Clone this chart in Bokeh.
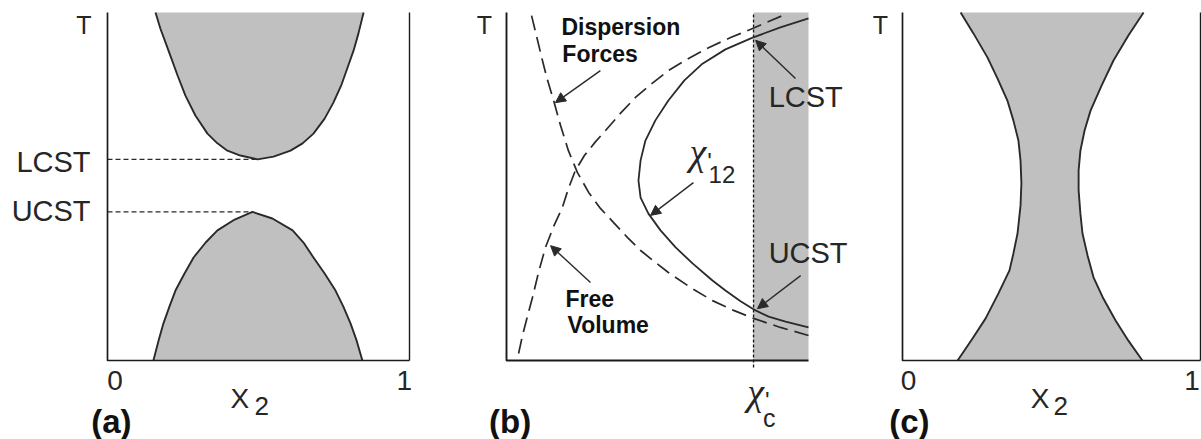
from bokeh.plotting import figure
from bokeh.models import Range1d, Arrow, NormalHead
from bokeh.core.properties import value
from bokeh.embed import file_html
from bokeh.resources import INLINE

# ---------------- data (mole fraction X2 / reduced chi in [0,1], T in [0,1]) ----------------
# panel (a): LCST (upper) and UCST (lower) binodals
a_lcst_x = [0.159, 0.175, 0.192, 0.209, 0.232, 0.258, 0.291, 0.331, 0.364, 0.397, 0.440, 0.497,
            0.550, 0.606, 0.646, 0.682, 0.719, 0.748, 0.775, 0.795, 0.815, 0.831, 0.848]
a_lcst_t = [1.000, 0.954, 0.914, 0.874, 0.819, 0.761, 0.704, 0.652, 0.624, 0.603, 0.589, 0.578,
            0.586, 0.603, 0.624, 0.652, 0.695, 0.741, 0.793, 0.842, 0.891, 0.940, 1.000]
a_ucst_x = [0.152, 0.169, 0.185, 0.205, 0.225, 0.255, 0.285, 0.325, 0.364, 0.421, 0.480,
            0.546, 0.613, 0.649, 0.682, 0.719, 0.755, 0.781, 0.805, 0.825, 0.844]
a_ucst_t = [0.000, 0.057, 0.106, 0.155, 0.201, 0.250, 0.296, 0.339, 0.374, 0.405, 0.427,
            0.408, 0.374, 0.339, 0.296, 0.250, 0.201, 0.155, 0.106, 0.057, 0.000]
a_lcst_level = 0.578
a_ucst_level = 0.427
a_lcst_xc = 0.49
a_ucst_xc = 0.48

# panel (b): dispersion-force and free-volume contributions, total chi'12, critical chi'c
b_disp_x = [0.083, 0.099, 0.119, 0.136, 0.156, 0.179, 0.205, 0.235, 0.272, 0.311, 0.354,
            0.401, 0.444, 0.493, 0.536, 0.609, 0.682, 0.752, 0.818, 0.907, 1.000]
b_disp_t = [0.991, 0.934, 0.862, 0.805, 0.747, 0.675, 0.603, 0.540, 0.483, 0.437, 0.397,
            0.353, 0.316, 0.282, 0.253, 0.210, 0.172, 0.144, 0.121, 0.095, 0.072]
b_free_x = [0.040, 0.053, 0.070, 0.086, 0.106, 0.129, 0.156, 0.185, 0.205, 0.228, 0.258, 0.295,
            0.328, 0.377, 0.427, 0.477, 0.536, 0.603, 0.669, 0.742, 0.815, 0.868, 0.914]
b_free_t = [0.020, 0.072, 0.129, 0.181, 0.253, 0.325, 0.385, 0.440, 0.494, 0.546, 0.589, 0.629,
            0.661, 0.710, 0.756, 0.793, 0.833, 0.868, 0.899, 0.928, 0.954, 0.974, 0.991]
b_chi_x = [1.000, 0.907, 0.815, 0.725, 0.649, 0.589, 0.536, 0.493, 0.460, 0.444, 0.437, 0.444,
           0.470, 0.510, 0.560, 0.616, 0.682, 0.725, 0.775, 0.818, 0.868, 0.924, 1.000]
b_chi_t = [0.983, 0.957, 0.928, 0.894, 0.853, 0.805, 0.747, 0.690, 0.632, 0.575, 0.517, 0.468,
           0.422, 0.374, 0.325, 0.279, 0.230, 0.201, 0.170, 0.147, 0.126, 0.112, 0.095]
b_chi_c = 0.818

# panel (c): hourglass two-phase region
c_left_x = [0.195, 0.238, 0.285, 0.319, 0.352, 0.372, 0.389, 0.396, 0.399, 0.396, 0.386,
            0.372, 0.359, 0.322, 0.279, 0.235, 0.185]
c_left_t = [1.000, 0.940, 0.871, 0.810, 0.747, 0.690, 0.632, 0.575, 0.509, 0.445, 0.365,
            0.307, 0.259, 0.193, 0.121, 0.063, 0.000]
c_right_x = [0.809, 0.758, 0.708, 0.668, 0.631, 0.611, 0.597, 0.591, 0.591, 0.597, 0.604,
             0.621, 0.641, 0.674, 0.715, 0.758, 0.805]
c_right_t = [1.000, 0.934, 0.862, 0.790, 0.718, 0.661, 0.603, 0.546, 0.489, 0.422, 0.365,
             0.302, 0.239, 0.178, 0.115, 0.057, 0.000]

x_tick_labels = ["0", "1"]
panel_labels = ["(a)", "(b)", "(c)"]

# ---------------- layout ----------------
W, H = 1201, 439
AXPX = {"a": (107, 302), "b": (506, 302), "c": (902, 298)}   # pixel of X=0, pixels per X unit
T0_PX, T_SCALE = 360, 348                                    # pixel row of T=0, pixels per T unit


def xr(name):
    x0, s = AXPX[name]
    return Range1d(start=-x0 / s, end=(W - x0) / s)


p = figure(width=W, height=H, x_range=xr("a"),
           y_range=Range1d(start=-(H - T0_PX) / T_SCALE, end=T0_PX / T_SCALE),
           output_backend="svg", toolbar_location=None,
           x_axis_type=None, y_axis_type=None, min_border=0)
p.extra_x_ranges = {"b": xr("b"), "c": xr("c")}
p.outline_line_color = None
p.background_fill_color = "white"
p.border_fill_color = "white"

RN = {"a": "default", "b": "b", "c": "c"}
FILL = "#c0c0c0"
CURVE = "#2a2a2a"
AXC = "#1a1a1a"
TXT = "#262626"
BOLD = "#111111"
SANS = value("Liberation Sans")
SERIF = value("Liberation Serif")


def txt(panel, x, y, s, size, align="left", bold=False, color=TXT, font=SANS, italic=False):
    style = "bold" if bold else ("italic" if italic else "normal")
    p.text(x=[x], y=[y], text=[s], x_range_name=RN[panel], text_font=font,
           text_font_size=size, text_align=align, text_baseline="middle",
           text_color=color, text_font_style=style)


def arrow(panel, xs, ys, xe, ye):
    p.add_layout(Arrow(x_start=xs, y_start=ys, x_end=xe, y_end=ye, x_range_name=RN[panel],
                       line_color=CURVE, line_width=1.4,
                       end=NormalHead(size=10, fill_color=CURVE, line_color=CURVE, line_width=1)))


# ---------- panel (a) ----------
p.patch(a_lcst_x, a_lcst_t, fill_color=FILL, line_color=None)
p.patch(a_ucst_x, a_ucst_t, fill_color=FILL, line_color=None)
p.line(a_lcst_x, a_lcst_t, line_color=CURVE, line_width=1.9, line_join="round")
p.line(a_ucst_x, a_ucst_t, line_color=CURVE, line_width=1.9, line_join="round")
p.line([0, a_lcst_xc], [a_lcst_level] * 2, line_color=CURVE, line_width=1.2, line_dash="5 3")
p.line([0, a_ucst_xc], [a_ucst_level] * 2, line_color=CURVE, line_width=1.2, line_dash="5 3")
p.line([0, 0, 1], [1, 0, 0], line_color=AXC, line_width=1.7)
p.line([1, 1], [0, 1], line_color=AXC, line_width=1.4)
txt("a", -0.078, 0.965, "T", "25px", "center")
txt("a", -0.056, 0.570, "LCST", "29px", "right")
txt("a", -0.056, 0.429, "UCST", "29px", "right")
txt("a", 0.025, -0.058, x_tick_labels[0], "28px", "center")
txt("a", 0.983, -0.058, x_tick_labels[1], "28px", "center")
txt("a", 0.407, -0.109, "X", "28px")
txt("a", 0.487, -0.132, "2", "26px")
txt("a", 0.013, -0.175, panel_labels[0], "33px", "center", bold=True, color=BOLD)

# ---------- panel (b) ----------
p.quad(left=[b_chi_c], right=[1], bottom=[0], top=[1], x_range_name="b",
       fill_color=FILL, line_color=None)
p.line([b_chi_c, b_chi_c], [-0.02, 1], x_range_name="b", line_color="#111111",
       line_width=1.3, line_dash="3 2")
p.line(b_disp_x, b_disp_t, x_range_name="b", line_color=CURVE, line_width=1.7,
       line_dash="15 7", line_join="round")
p.line(b_free_x, b_free_t, x_range_name="b", line_color=CURVE, line_width=1.7,
       line_dash="15 7", line_join="round")
p.line(b_chi_x, b_chi_t, x_range_name="b", line_color=CURVE, line_width=1.8, line_join="round")
p.line([0, 0, 1], [1, 0, 0], x_range_name="b", line_color=AXC, line_width=1.9)
txt("b", -0.073, 0.965, "T", "25px", "center")
txt("b", 0.182, 0.958, "Dispersion", "23px", bold=True, color=BOLD)
txt("b", 0.185, 0.880, "Forces", "23px", bold=True, color=BOLD)
txt("b", 0.195, 0.178, "Free", "23px", bold=True, color=BOLD)
txt("b", 0.202, 0.101, "Volume", "23px", bold=True, color=BOLD)
txt("b", 0.868, 0.756, "LCST", "29px")
txt("b", 0.868, 0.308, "UCST", "29px")
txt("b", 0.606, 0.598, "\u03c7", "38px", font=SERIF, italic=True)
txt("b", 0.665, 0.572, "'", "24px")
txt("b", 0.669, 0.534, "12", "24px")
txt("b", 0.797, -0.091, "\u03c7", "38px", font=SERIF, italic=True)
txt("b", 0.856, -0.115, "'", "24px")
txt("b", 0.849, -0.166, "c", "25px")
txt("b", 0.012, -0.175, panel_labels[1], "33px", "center", bold=True, color=BOLD)
arrow("b", 0.311, 0.833, 0.162, 0.741)
arrow("b", 0.957, 0.810, 0.825, 0.920)
arrow("b", 0.619, 0.511, 0.477, 0.417)
arrow("b", 0.974, 0.244, 0.831, 0.149)
arrow("b", 0.278, 0.224, 0.146, 0.330)

# ---------- panel (c) ----------
p.patch(c_left_x + c_right_x[::-1], c_left_t + c_right_t[::-1], x_range_name="c",
        fill_color=FILL, line_color=None)
p.line(c_left_x, c_left_t, x_range_name="c", line_color=CURVE, line_width=1.9, line_join="round")
p.line(c_right_x, c_right_t, x_range_name="c", line_color=CURVE, line_width=1.9, line_join="round")
p.line([0, 0, 1], [1, 0, 0], x_range_name="c", line_color=AXC, line_width=1.7)
p.line([1, 1], [0, 1], x_range_name="c", line_color=AXC, line_width=1.4)
txt("c", -0.074, 0.965, "T", "25px", "center")
txt("c", 0.020, -0.058, x_tick_labels[0], "28px", "center")
txt("c", 0.972, -0.058, x_tick_labels[1], "28px", "center")
txt("c", 0.430, -0.109, "X", "28px")
txt("c", 0.507, -0.132, "2", "26px")
txt("c", 0.023, -0.175, panel_labels[2], "33px", "center", bold=True, color=BOLD)

open("out.html", "w").write(file_html(p, INLINE))
